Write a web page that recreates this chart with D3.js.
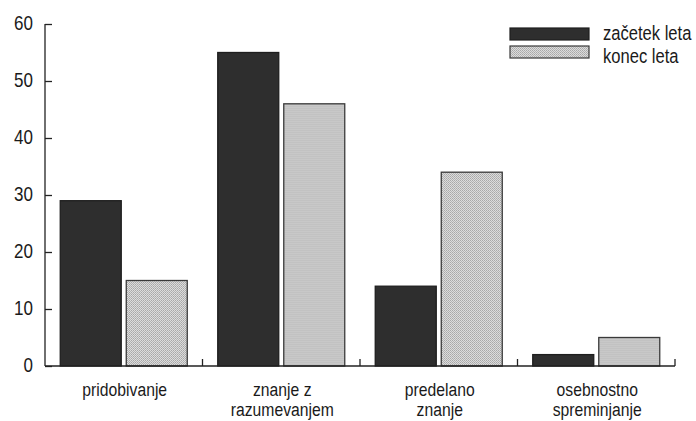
<!DOCTYPE html>
<html>
<head>
<meta charset="utf-8">
<script src="https://cdn.jsdelivr.net/npm/d3@7"></script>
<style>
  body { margin: 0; background: #fff; }
  svg { display: block; }
  text { font-family: "Liberation Sans", Arial, sans-serif; fill: #1a1a1a; }
</style>
</head>
<body>
<svg id="chart" width="696" height="421"></svg>
<script>
const categories = [
  ["pridobivanje"],
  ["znanje z", "razumevanjem"],
  ["predelano", "znanje"],
  ["osebnostno", "spreminjanje"]
];
const seriesNames = ["začetek leta", "konec leta"];
const startValues = [29, 55, 14, 2];
const endValues = [15, 46, 34, 5];
const yTicks = [0, 10, 20, 30, 40, 50, 60];

const svg = d3.select("#chart");
const defs = svg.append("defs");
const pat = defs.append("pattern")
  .attr("id", "dots").attr("width", 2).attr("height", 2)
  .attr("patternUnits", "userSpaceOnUse");
pat.append("rect").attr("width", 2).attr("height", 2).attr("fill", "#dcdcdc");
pat.append("rect").attr("width", 1).attr("height", 1).attr("fill", "#a8a8a8");
pat.append("rect").attr("x", 1).attr("y", 1).attr("width", 1).attr("height", 1).attr("fill", "#b4b4b4");

const fills = ["#2e2e2e", "url(#dots)"];
const strokes = ["#1e1e1e", "#3a3a3a"];
const SX = 0.85; // condensed look of the original typeface

const catKeys = categories.map((c, i) => i);
const x0 = d3.scaleBand().domain(catKeys).range([45, 675]).padding(0);
const x1 = d3.scaleBand().domain([0, 1]).range([0, x0.bandwidth()])
  .paddingInner(0.076).paddingOuter(0.231);
const y = d3.scaleLinear().domain([0, 60]).range([366, 24]);

const data = catKeys.map(i => [startValues[i], endValues[i]]);

// bars
const groups = svg.append("g").selectAll("g").data(data).join("g")
  .attr("transform", (d, i) => `translate(${x0(i)},0)`);
groups.selectAll("rect").data(d => d.map((v, s) => ({v, s}))).join("rect")
  .attr("x", d => x1(d.s))
  .attr("y", d => y(d.v))
  .attr("width", x1.bandwidth())
  .attr("height", d => y(0) - y(d.v))
  .attr("fill", d => fills[d.s])
  .attr("stroke", d => strokes[d.s])
  .attr("stroke-width", 1.3);

// y axis
const yAxis = d3.axisRight(y).tickValues(yTicks).tickSize(7).tickFormat("");
const yg = svg.append("g").attr("transform", "translate(45,0)").call(yAxis);
yg.select(".domain").attr("d", `M0,${y(60)}V${y(0)}`).attr("stroke", "#222").attr("stroke-width", 1.3);
yg.selectAll(".tick line").attr("stroke", "#222").attr("stroke-width", 1.3);
svg.append("g").selectAll("text").data(yTicks).join("text")
  .attr("transform", d => `translate(33,${y(d) - 1}) scale(${SX},1)`)
  .attr("dy", "0.35em")
  .attr("text-anchor", "end").style("font-size", "20px")
  .text(d => d);

// x axis baseline
svg.append("line").attr("x1", 45).attr("x2", 675).attr("y1", y(0)).attr("y2", y(0))
  .attr("stroke", "#222").attr("stroke-width", 1.3);
// category separator ticks
svg.append("g").selectAll("line").data(catKeys).join("line")
  .attr("x1", i => x0(i) + x0.bandwidth()).attr("x2", i => x0(i) + x0.bandwidth())
  .attr("y1", y(0)).attr("y2", y(0) - 7)
  .attr("stroke", "#222").attr("stroke-width", 1.3);

// category labels
const lab = svg.append("g").selectAll("text").data(categories).join("text")
  .attr("text-anchor", "middle").style("font-size", "18.5px")
  .attr("transform", (d, i) => `translate(${x0(i) + x0.bandwidth() / 2 + 1},396) scale(${SX},1)`);
lab.selectAll("tspan").data(d => d).join("tspan")
  .attr("x", 0).attr("y", (d, j) => j * 20).text(d => d);

// legend
const leg = svg.append("g").selectAll("g").data(seriesNames).join("g")
  .attr("transform", (d, i) => `translate(510,${28 + i * 18})`);
leg.append("rect").attr("width", 79).attr("height", 12)
  .attr("fill", (d, i) => fills[i]).attr("stroke", (d, i) => strokes[i]).attr("stroke-width", 1.2);
leg.append("text")
  .attr("transform", (d, i) => `translate(93,${12 + i * 5}) scale(${SX},1)`)
  .style("font-size", "19.5px").text(d => d);
</script>
</body>
</html>
